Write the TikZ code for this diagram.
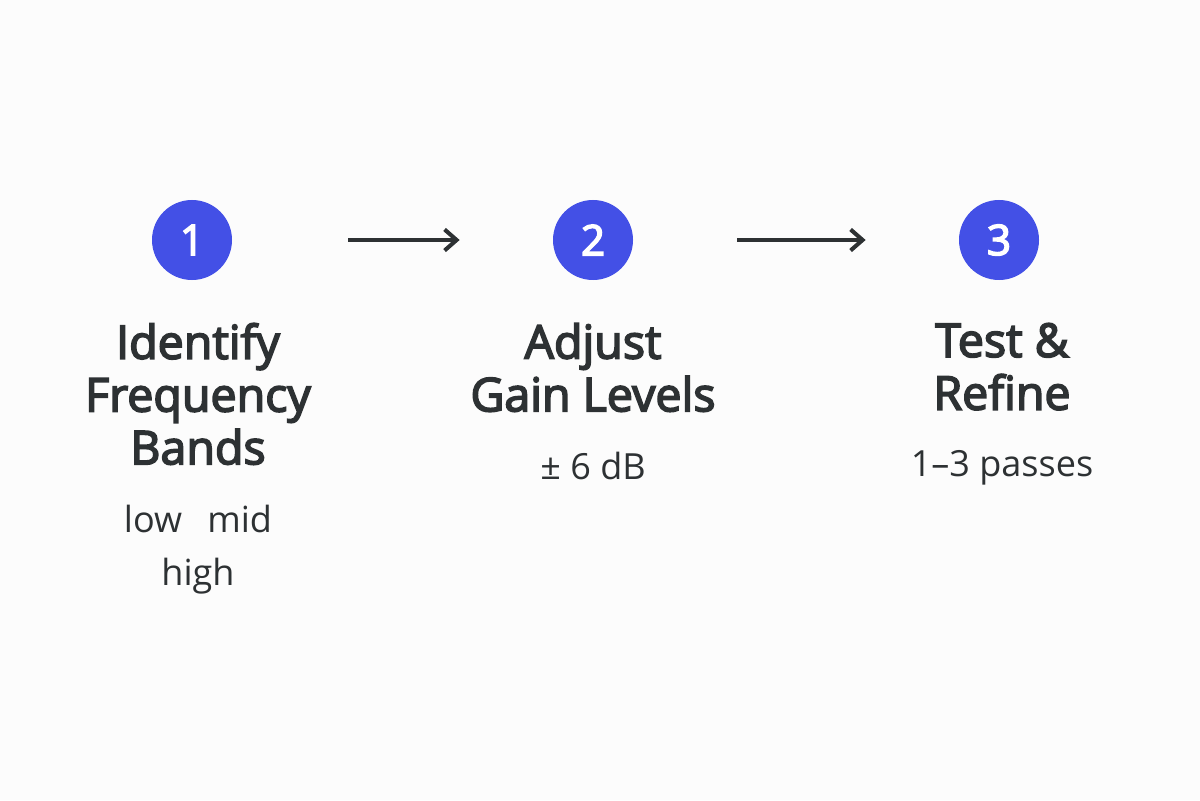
\documentclass[tikz,border=0pt]{standalone}
\usepackage{fontspec}
\setmainfont{Open Sans}
\newfontfamily\mediumfont[FakeBold=3.5]{Open Sans}
\usepackage{xcolor}
\usetikzlibrary{positioning, arrows.meta}

\definecolor{stepblue}{HTML}{4350E6}
\definecolor{inkgray}{HTML}{2D3133}
\definecolor{paper}{HTML}{FCFCFC}

\begin{document}
\begin{tikzpicture}[
    every node/.style={text=inkgray},
    badge/.style={
        circle,
        fill=stepblue,
        minimum size=1.6cm,
        inner sep=0pt,
        text=white,
        font=\mediumfont\fontsize{24}{28}\selectfont
    },
    title/.style={
        align=center,
        inner sep=0pt,
        font=\mediumfont\fontsize{26.5}{30}\selectfont
    },
    detail/.style={
        align=center,
        inner sep=0pt,
        font=\fontsize{20.5}{30}\selectfont
    },
    arrow/.style={
        -{Straight Barb[length=2.4mm,width=4.2mm]},
        line width=2.3pt,
        draw=inkgray
    }
]

% Fond
\fill[paper] (0,0) rectangle (24,-16);
\useasboundingbox (0,0) rectangle (24,-16);

% Cercles
\node[badge] (one) at (3.84,-4.8) {1};
\node[badge] (two) at (11.86,-4.8) {2};
\node[badge] (three) at (19.98,-4.8) {3};

% Titres
\node[title, below=0.85cm of one, xshift=0.12cm] (identify) {Identify\\Frequency\\Bands};
\node[title, below=0.85cm of two] (adjust) {Adjust\\Gain Levels};
\node[title, below=0.85cm of three, xshift=0.06cm] (test) {Test \&\\Refine};

% Details
\node[detail, below=0.8cm of identify] (bands) {low\hspace{0.7em}mid\\high};
\node[detail, below=0.8cm of adjust] (gain) {± 6 dB};
\node[detail, below=0.8cm of test] (passes) {1–3 passes};

% Fleches
\draw[arrow, shorten <=2.32cm, shorten >=1.86cm] (one) -- (two);
\draw[arrow, shorten <=2.08cm, shorten >=1.86cm] (two) -- (three);

\end{tikzpicture}
\end{document}
